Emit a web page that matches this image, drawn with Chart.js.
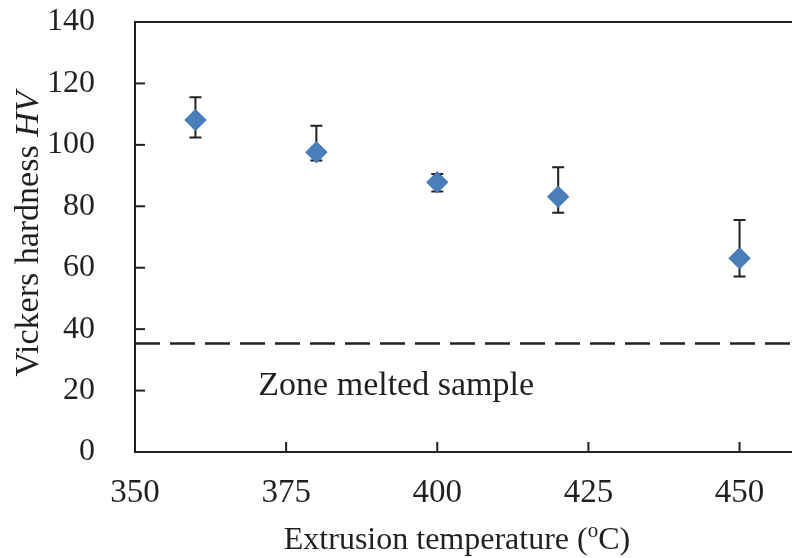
<!DOCTYPE html>
<html>
<head>
<meta charset="utf-8">
<script src="https://cdn.jsdelivr.net/npm/chart.js@4.4.1/dist/chart.umd.min.js"></script>
<style>
  html, body { margin: 0; padding: 0; background: #fff; overflow: hidden; }
  #wrap { width: 800px; height: 558px; }
</style>
</head>
<body>
<div id="wrap"><canvas id="chart" width="800" height="558"></canvas></div>
<script>
// extrusion temperature (oC)
const temperatures = [360, 380, 400, 420, 450];
// Vickers hardness HV and error bar ends
const hardness = [108.1, 97.6, 87.8, 83.1, 63.1];
const errHigh = [115.5, 106.2, 90.5, 92.7, 75.5];
const errLow = [102.4, 94.9, 84.8, 77.9, 57.1];
// zone melted reference level
const zoneMelted = 35.3;
const zoneLabel = "Zone melted sample";
const xTicks = [350, 375, 400, 425, 450];
const yTicks = [0, 20, 40, 60, 80, 100, 120, 140];

const FONT = "'Liberation Serif', 'Times New Roman', serif";
const INK = "#231f20";
const PLOT_TOP = 22;

// keep the plot top where the figure has it
const pinTop = {
  id: "pinTop",
  afterLayout(chart) {
    const y = chart.scales.y;
    const area = chart.chartArea;
    if (Math.abs(area.top - PLOT_TOP) > 0.5) {
      area.top = PLOT_TOP;
      area.height = area.bottom - PLOT_TOP;
      y.top = PLOT_TOP;
      y.height = y.bottom - PLOT_TOP;
      y.configure();
    }
  },
};

// error bars, inward tick marks, top spine, labels
const extras = {
  id: "extras",
  afterDatasetsDraw(chart) {
    const ctx = chart.ctx;
    const x = chart.scales.x;
    const y = chart.scales.y;
    const area = chart.chartArea;
    ctx.save();

    // error bars
    ctx.strokeStyle = INK;
    ctx.lineWidth = 2;
    temperatures.forEach((t, i) => {
      const px = x.getPixelForValue(t);
      const top = y.getPixelForValue(errHigh[i]);
      const bot = y.getPixelForValue(errLow[i]);
      ctx.beginPath();
      ctx.moveTo(px, top);
      ctx.lineTo(px, bot);
      ctx.moveTo(px - 6, top);
      ctx.lineTo(px + 6, top);
      ctx.moveTo(px - 6, bot);
      ctx.lineTo(px + 6, bot);
      ctx.stroke();
    });

    // markers go on top of the bars
    chart.getDatasetMeta(0).data.forEach((pt) => pt.draw(ctx, area));

    // top spine
    ctx.strokeStyle = INK;
    ctx.lineWidth = 2;
    ctx.beginPath();
    ctx.moveTo(area.left - 1, area.top);
    ctx.lineTo(area.right, area.top);
    ctx.stroke();

    // inward ticks
    xTicks.forEach((v) => {
      const px = x.getPixelForValue(v);
      ctx.beginPath();
      ctx.moveTo(px, area.bottom);
      ctx.lineTo(px, area.bottom - 10);
      ctx.stroke();
    });
    yTicks.forEach((v) => {
      const py = y.getPixelForValue(v);
      ctx.beginPath();
      ctx.moveTo(area.left, py);
      ctx.lineTo(area.left + 10, py);
      ctx.stroke();
    });

    // zone melted label
    ctx.fillStyle = INK;
    ctx.font = "34px " + FONT;
    ctx.textAlign = "center";
    ctx.textBaseline = "alphabetic";
    ctx.fillText(zoneLabel, x.getPixelForValue(393.2), y.getPixelForValue(18.6));

    // x axis title with superscript o
    const xt1 = "Extrusion temperature (";
    const xt2 = "o";
    const xt3 = "C)";
    ctx.font = "32px " + FONT;
    const w1 = ctx.measureText(xt1).width;
    const w3 = ctx.measureText(xt3).width;
    ctx.font = "21px " + FONT;
    const w2 = ctx.measureText(xt2).width;
    const sx = 457 - (w1 + w2 + w3) / 2;
    const by = 549;
    ctx.textAlign = "left";
    ctx.font = "32px " + FONT;
    ctx.fillText(xt1, sx, by);
    ctx.font = "21px " + FONT;
    ctx.fillText(xt2, sx + w1, by - 12);
    ctx.font = "32px " + FONT;
    ctx.fillText(xt3, sx + w1 + w2, by);

    // y axis title with italic HV
    const yt1 = "Vickers hardness ";
    const yt2 = "HV";
    ctx.translate(38, 234);
    ctx.rotate(-Math.PI / 2);
    ctx.font = "34px " + FONT;
    const a = ctx.measureText(yt1).width;
    ctx.font = "italic 34px " + FONT;
    const b = ctx.measureText(yt2).width;
    const start = -(a + b) / 2;
    ctx.font = "34px " + FONT;
    ctx.fillText(yt1, start, 0);
    ctx.font = "italic 34px " + FONT;
    ctx.fillText(yt2, start + a, 0);

    ctx.restore();
  },
};

new Chart(document.getElementById("chart"), {
  type: "scatter",
  data: {
    datasets: [
      {
        label: "Hardness",
        data: temperatures.map((t, i) => ({ x: t, y: hardness[i] })),
        pointStyle: "rectRot",
        pointRadius: 11,
        backgroundColor: "#4a7ebb",
        borderColor: "#4a7ebb",
        borderWidth: 0,
      },
      {
        label: zoneLabel,
        type: "line",
        data: [
          { x: 350, y: zoneMelted },
          { x: 460, y: zoneMelted },
        ],
        borderColor: INK,
        borderWidth: 2.5,
        borderDash: [25, 10],
        pointRadius: 0,
        fill: false,
      },
    ],
  },
  options: {
    responsive: false,
    animation: false,
    layout: { autoPadding: false, padding: { left: 0, right: 0, top: PLOT_TOP, bottom: 0 } },
    scales: {
      x: {
        type: "linear",
        min: 350,
        max: 460,
        afterFit: (s) => {
          s.height = 106;
          s.paddingLeft = 0;
          s.paddingRight = 0;
        },
        afterBuildTicks: (s) => { s.ticks = xTicks.map((v) => ({ value: v })); },
        grid: { display: false },
        border: { display: true, color: INK, width: 2 },
        ticks: {
          padding: 14,
          color: INK,
          font: { family: FONT, size: 33 },
        },
      },
      y: {
        min: 0,
        max: 140,
        afterFit: (s) => {
          s.width = 135;
          s.paddingTop = 0;
          s.paddingBottom = 0;
        },
        afterBuildTicks: (s) => { s.ticks = yTicks.map((v) => ({ value: v })); },
        grid: { display: false },
        border: { display: true, color: INK, width: 2 },
        ticks: {
          padding: 32,
          color: INK,
          font: { family: FONT, size: 32 },
        },
      },
    },
    plugins: {
      legend: { display: false },
      tooltip: { enabled: false },
    },
  },
  plugins: [pinTop, extras],
});
</script>
</body>
</html>
